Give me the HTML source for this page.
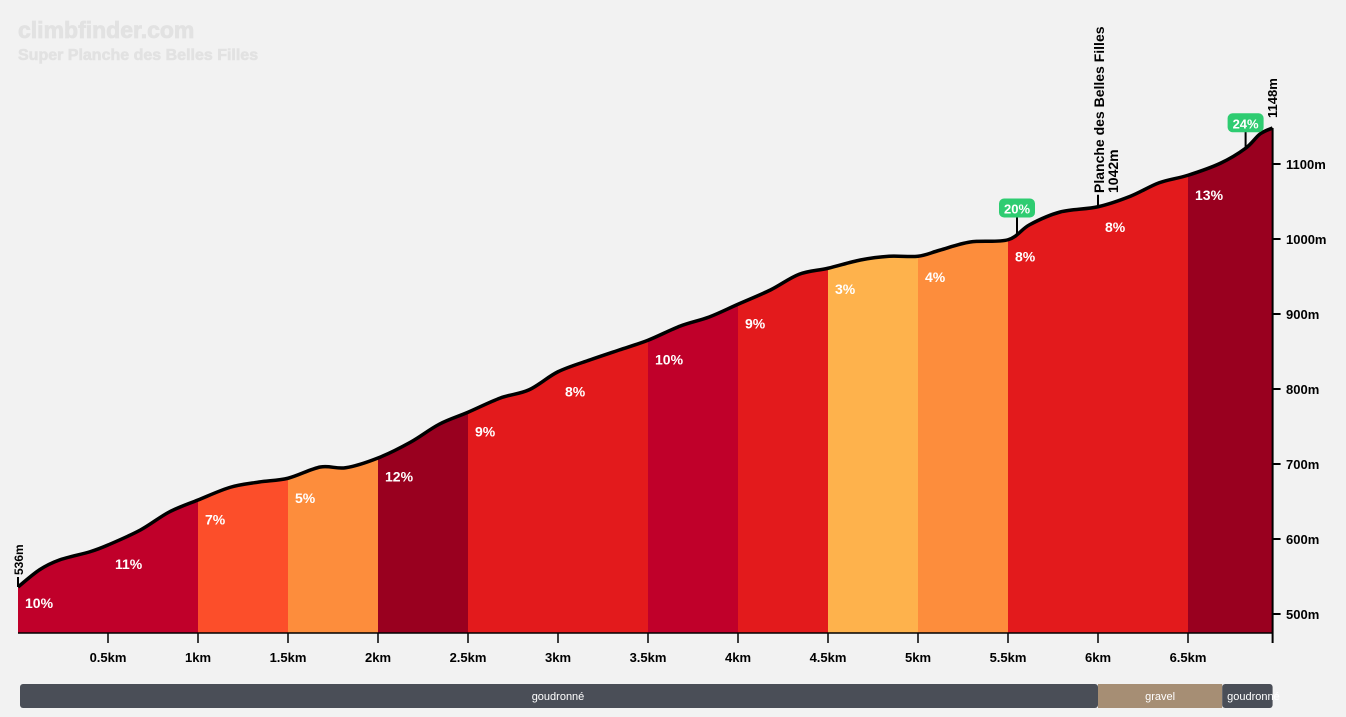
<!DOCTYPE html>
<html><head><meta charset="utf-8"><style>
body{margin:0;background:#f2f2f2;font-family:"Liberation Sans",sans-serif}
svg{display:block}
text{font-family:"Liberation Sans",sans-serif;font-weight:bold}
</style></head><body>
<svg id="c" width="1346" height="717">
<text x="18" y="38" font-size="23" fill="#e2e2e2" stroke="#e2e2e2" stroke-width="0.8">climbfinder.com</text>
<text x="18" y="60" font-size="16" fill="#e2e2e2" stroke="#e2e2e2" stroke-width="0.6">Super Planche des Belles Filles</text>
</svg>
<script>
const dist=[0,0.12,0.23,0.4,0.5,0.68,0.84,1.0,1.18,1.34,1.5,1.68,1.82,2.0,2.18,2.34,2.5,2.68,2.84,3.0,3.18,3.34,3.5,3.68,3.84,4.0,4.18,4.34,4.5,4.68,4.84,5.0,5.12,5.29,5.5,5.62,5.79,6.0,6.18,6.34,6.5,6.68,6.82,6.9,6.97];
const elev=[536,559,572,583,592,612,636,652,669,676,681,696,695,708,729,753,769,788,799,823,839,852,865,884,896,913,932,953,961,972,977,977,985,996,999,1019,1036,1043,1057,1075,1085,1101,1121,1140,1148];
const segStart=[0,0.5,1,1.5,2,2.5,3,3.5,4,4.5,5,5.5,6,6.5];
const segGrade=[10,11,7,5,12,9,8,10,9,3,4,8,8,13];
const yTicks=[500,600,700,800,900,1000,1100];
const xTicks=[0.5,1,1.5,2,2.5,3,3.5,4,4.5,5,5.5,6,6.5];
const peaks=[{d:5.55,g:20},{d:6.82,g:24}];
const surfaces=[{from:0,to:6,name:"goudronné",c:"#4a4e57"},{from:6,to:6.69,name:"gravel",c:"#a68e74"},{from:6.69,to:6.97,name:"goudronné",c:"#4a4e57"}];
const maxD=6.97;
const X=d=>18+d*180, Y=e=>614-(e-500)*0.75, BASE=633;
const NS="http://www.w3.org/2000/svg",svg=document.getElementById('c');
function mk(t,a,p){const e=document.createElementNS(NS,t);for(const k in a)e.setAttribute(k,a[k]);(p||svg).appendChild(e);return e;}
function colorFor(g){if(g>=12)return"#99001f";if(g>=10)return"#c0002a";if(g>=8)return"#e31a1c";if(g>=6)return"#fc4e2a";if(g>=4)return"#fd8d3c";return"#feb24c";}
function elevAt(d){for(let i=1;i<dist.length;i++)if(d<=dist[i]){const t=(d-dist[i-1])/(dist[i]-dist[i-1]);return elev[i-1]+t*(elev[i]-elev[i-1]);}return elev[elev.length-1];}
function pathStr(){const pts=dist.map((d,i)=>[X(d),Y(elev[i])]);let s=`M${pts[0][0]},${pts[0][1]}`;
for(let i=0;i<pts.length-1;i++){const p0=pts[Math.max(0,i-1)],p1=pts[i],p2=pts[i+1],p3=pts[Math.min(pts.length-1,i+2)];
const c1=[p1[0]+(p2[0]-p0[0])/6,p1[1]+(p2[1]-p0[1])/6],c2=[p2[0]-(p3[0]-p1[0])/6,p2[1]-(p3[1]-p1[1])/6];
s+=` C${c1[0]},${c1[1]} ${c2[0]},${c2[1]} ${p2[0]},${p2[1]}`;}return s;}
const P=pathStr();
const defs=mk('defs',{});const cp=mk('clipPath',{id:'cl'},defs);
mk('path',{d:P+` L${X(maxD)},${BASE} L${X(0)},${BASE} Z`},cp);
const g=mk('g',{'clip-path':'url(#cl)'});
segStart.forEach((s,i)=>{const e=Math.min(i+1<segStart.length?segStart[i+1]:maxD,maxD);
const r=mk('rect',{x:X(s),y:100,width:X(e)-X(s),height:BASE-100,fill:colorFor(segGrade[i])},g);

});
segStart.forEach((s,i)=>{const t=mk('text',{x:X(s)+7,y:Y(elevAt(s+0.05))+28,'font-size':14,fill:'#fff'});t.textContent=segGrade[i]+'%';

});
const line=mk('path',{d:P,fill:'none',stroke:'#000','stroke-width':3.5});


mk('line',{x1:18,y1:BASE,x2:X(maxD),y2:BASE,stroke:'#000','stroke-width':1.5});
mk('line',{x1:X(maxD),y1:Y(1148),x2:X(maxD),y2:BASE+10,stroke:'#000','stroke-width':2});
xTicks.forEach(d=>{mk('line',{x1:X(d),y1:BASE,x2:X(d),y2:BASE+10,stroke:'#000','stroke-width':1.5});
const t=mk('text',{x:X(d),y:662,'font-size':13,'text-anchor':'middle',fill:'#000'});t.textContent=d+'km';

});
yTicks.forEach(v=>{mk('line',{x1:X(maxD),y1:Y(v),x2:X(maxD)+8,y2:Y(v),stroke:'#000','stroke-width':2});
const t=mk('text',{x:1286,y:Y(v)+5,'font-size':13,fill:'#000'});t.textContent=v+'m';

});
mk('line',{x1:18,y1:Y(536),x2:18,y2:Y(536)-10,stroke:'#000','stroke-width':2});
let t=mk('text',{transform:`translate(23,${Y(536)-12}) rotate(-90)`,'font-size':12,fill:'#000'});t.textContent='536m';
t=mk('text',{transform:`translate(1277,${Y(1148)-10}) rotate(-90)`,'font-size':13,fill:'#000'});t.textContent='1148m';
mk('line',{x1:X(6),y1:Y(1043),x2:X(6),y2:Y(1043)-12,stroke:'#000','stroke-width':2});
t=mk('text',{transform:`translate(1104,193) rotate(-90)`,'font-size':14,fill:'#000'});t.textContent='Planche des Belles Filles';
t=mk('text',{transform:`translate(1118,193) rotate(-90)`,'font-size':14,fill:'#000'});t.textContent='1042m';
peaks.forEach(p=>{const x=X(p.d),y=Y(elevAt(p.d));mk('line',{x1:x,y1:y,x2:x,y2:y-18,stroke:'#000','stroke-width':2});
mk('rect',{x:x-18,y:y-35,width:36,height:19,rx:5,fill:'#2ecc71'});
const tt=mk('text',{x:x,y:y-20,'font-size':13,'text-anchor':'middle',fill:'#fff'});tt.textContent=p.g+'%';

});
surfaces.forEach((s,i)=>{const r=mk('rect',{x:X(s.from)+(i==0?2:0),y:684,width:X(s.to)-X(s.from)-(i==0?2:0),height:24,fill:s.c,rx:(i==1?0:3)});


const tt=mk('text',{x:(X(s.from)+X(s.to))/2+(i==2?6:0),y:700,'font-size':11,'text-anchor':'middle',fill:'#fff'});tt.style.fontWeight='normal';tt.textContent=s.name;});
</script>
</body></html>
